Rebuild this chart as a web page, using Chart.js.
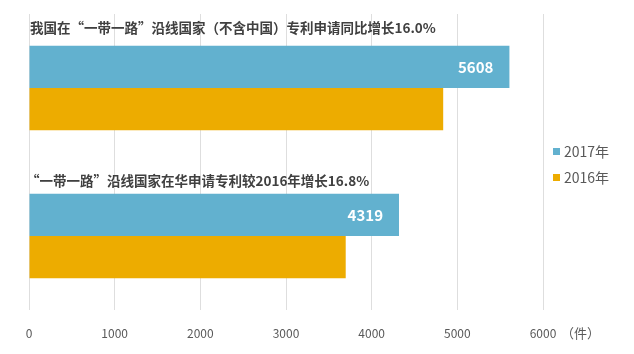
<!DOCTYPE html>
<html>
<head>
<meta charset="utf-8">
<script src="https://cdn.jsdelivr.net/npm/chart.js@4/dist/chart.umd.min.js"></script>
<style>
  html, body { margin: 0; padding: 0; background: #fff; }
  #wrap { width: 634px; height: 354px; }
</style>
</head>
<body>
<div id="wrap"><canvas id="chart" width="634" height="354"></canvas></div>
<script>
// 数据
const categories = [
    '我国在“一带一路”沿线国家（不含中国）专利申请同比增长16.0%',
    '“一带一路”沿线国家在华申请专利较2016年增长16.8%'
];
const seriesNames = ['2017年', '2016年'];
const values2017 = [5608, 4319];
const values2016 = [4835, 3697];
const xMax = 6000;
const xStep = 1000;
const unitLabel = '（件）';

const FONT = '"Noto Sans CJK SC", "Noto Sans", sans-serif';
const BLUE = '#62b1cf';
const ORANGE = '#edac00';

// 分类标题、柱内数值、图例、单位
const overlay = {
    id: 'overlay',
    afterDatasetsDraw(chart) {
        const ctx = chart.ctx;
        const y = chart.scales.y;
        const x = chart.scales.x;
        const area = chart.chartArea;
        ctx.save();

        // 分类标题（画在柱子上方）
        const titleGap = [60, 55];
        ctx.font = 'bold 13.5px ' + FONT;
        ctx.fillStyle = '#404040';
        ctx.textAlign = 'left';
        ctx.textBaseline = 'middle';
        categories.forEach((c, i) => {
            ctx.fillText(c, area.left + 1 - i * 4, y.getPixelForValue(i) - titleGap[i]);
        });

        // 2017年柱内数值
        const meta = chart.getDatasetMeta(0);
        ctx.font = 'bold 15px ' + FONT;
        ctx.fillStyle = '#ffffff';
        ctx.textAlign = 'right';
        meta.data.forEach((bar, i) => {
            ctx.fillText(String(values2017[i]), bar.x - 16, bar.y);
        });

        // 单位
        ctx.font = '13px ' + FONT;
        ctx.fillStyle = '#595959';
        ctx.textAlign = 'left';
        ctx.fillText(unitLabel, x.getPixelForValue(xMax) + 18, area.bottom + 23);

        // 图例
        ctx.font = '14px ' + FONT;
        chart.data.datasets.forEach((ds, i) => {
            const ly = 152 + i * 26;
            ctx.fillStyle = ds.backgroundColor;
            ctx.fillRect(553, ly - 4, 7, 7);
            ctx.fillStyle = '#595959';
            ctx.fillText(ds.label, 564, ly);
        });
        ctx.restore();
    }
};

new Chart(document.getElementById('chart'), {
    type: 'bar',
    data: {
        labels: categories,
        datasets: [
            { label: seriesNames[0], data: values2017, backgroundColor: BLUE, borderWidth: 0 },
            { label: seriesNames[1], data: values2016, backgroundColor: ORANGE, borderWidth: 0 }
        ]
    },
    options: {
        indexAxis: 'y',
        responsive: false,
        animation: false,
        devicePixelRatio: 1,
        categoryPercentage: 0.57,
        barPercentage: 1,
        layout: { padding: { left: 29, right: 91, top: 14, bottom: 13 } },
        plugins: {
            legend: { display: false },
            tooltip: { enabled: false }
        },
        scales: {
            x: {
                min: 0,
                max: xMax,
                afterFit(scale) { scale.height = 31; },
                ticks: {
                    stepSize: xStep,
                    padding: 16,
                    color: '#595959',
                    font: { family: FONT, size: 12 },
                    callback: v => String(v)
                },
                grid: { color: '#dedede', drawTicks: false },
                border: { display: false }
            },
            y: { display: false }
        }
    },
    plugins: [overlay]
});
</script>
</body>
</html>
